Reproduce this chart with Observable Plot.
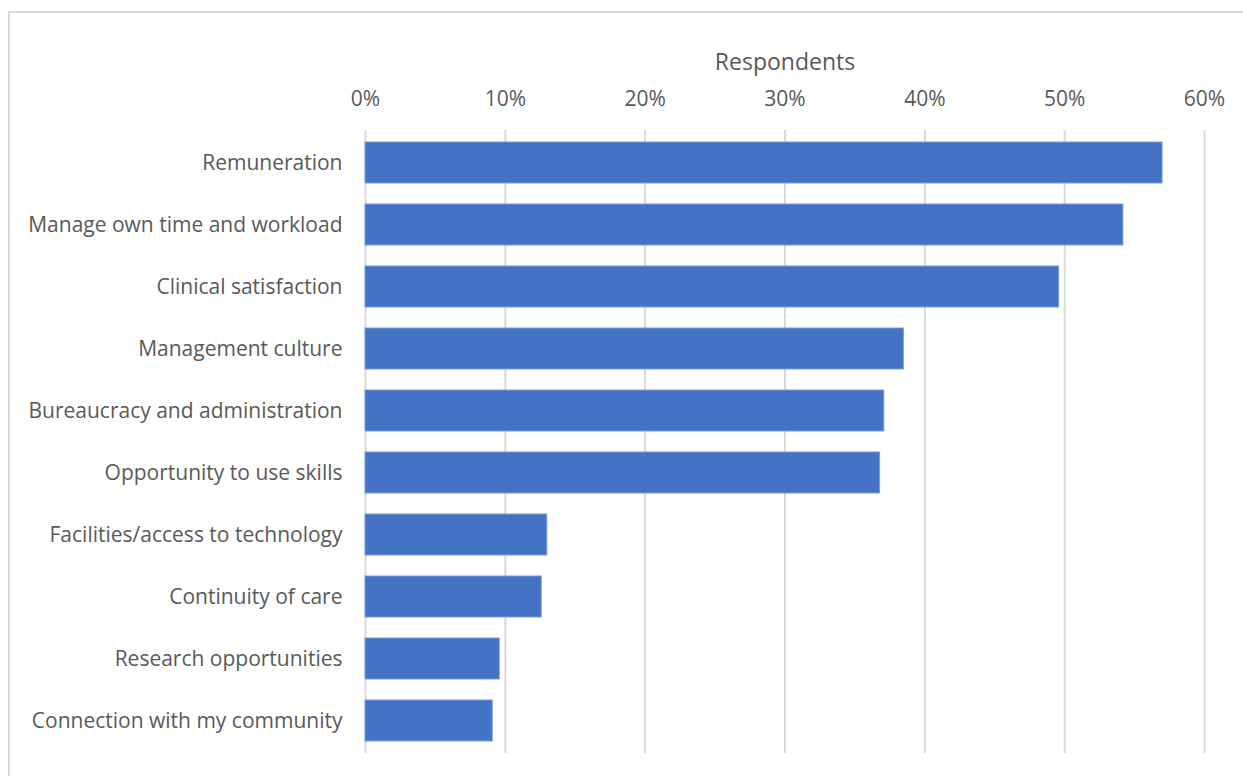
<!DOCTYPE html>
<html>
<head>
<meta charset="utf-8">
<script src="https://cdn.jsdelivr.net/npm/d3@7"></script>
<script src="https://cdn.jsdelivr.net/npm/@observablehq/plot@0.6"></script>
<style>
  html, body { margin: 0; padding: 0; background: #fff; }
  #wrap { position: relative; width: 1243px; height: 776px; overflow: hidden; }
  #frame { position: absolute; left: 8px; top: 11px; width: 1300px; height: 800px; border: 2px solid #d9d9d9; box-sizing: border-box; }
  #chart { position: absolute; left: 0; top: 0; }
</style>
</head>
<body>
<div id="wrap"><div id="frame"></div><div id="chart"></div></div>
<script>
const categories = [
  "Remuneration",
  "Manage own time and workload",
  "Clinical satisfaction",
  "Management culture",
  "Bureaucracy and administration",
  "Opportunity to use skills",
  "Facilities/access to technology",
  "Continuity of care",
  "Research opportunities",
  "Connection with my community"
];
const values = [0.570, 0.542, 0.496, 0.385, 0.371, 0.368, 0.130, 0.126, 0.096, 0.091];
const xTicks = [0, 0.1, 0.2, 0.3, 0.4, 0.5, 0.6];
const axisTitle = "Respondents";

const data = categories.map((c, i) => ({category: c, value: values[i]}));

const chart = Plot.plot({
  width: 1243,
  height: 776,
  marginLeft: 365,
  marginRight: 39,
  marginTop: 130,
  marginBottom: 23,
  style: {fontFamily: "'Open Sans', sans-serif", fontSize: "21px", color: "#595959", background: "transparent"},
  x: {domain: [0, 0.6], ticks: xTicks, tickFormat: d => Math.round(d * 100) + "%"},
  y: {domain: categories, paddingInner: 0.34, paddingOuter: 0.15},
  marks: [
    Plot.gridX(xTicks, {stroke: "#d9d9d9", strokeOpacity: 1, strokeWidth: 2}),
    Plot.barX(data, {y: "category", x: "value", fill: "#4472C4", stroke: "#7b9bd8", strokeWidth: 1}),
    Plot.axisX(xTicks, {anchor: "top", tickSize: 0, tickPadding: 25, tickFormat: d => Math.round(d * 100) + "%",
      label: null, fill: "#595959", fontSize: 21}),
    Plot.text([axisTitle], {frameAnchor: "top", dy: -68, lineAnchor: "middle", fontSize: 23, fill: "#595959"}),
    Plot.axisY({tickSize: 0, tickPadding: 23, label: null, fill: "#595959", fontSize: 21})
  ]
});
document.getElementById("chart").appendChild(chart);
</script>
</body>
</html>
